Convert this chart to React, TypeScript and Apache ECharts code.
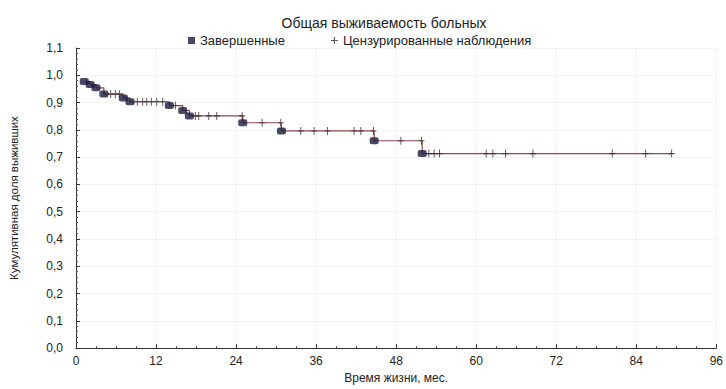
import React, { useEffect, useRef } from "react";
import * as echarts from "echarts";

// Kaplan–Meier: completed observations (events) — time (months) and cumulative survival
const eventTimes = [1.24, 2.13, 2.99, 4.18, 7.1, 8.1, 14.0, 16.0, 17.0, 25.0, 30.8, 44.7, 51.9];
const eventSurvival = [0.977, 0.966, 0.954, 0.931, 0.917, 0.903, 0.889, 0.871, 0.851, 0.826, 0.796, 0.76, 0.713];

// Censored observations — time (months) and survival level at which they sit
const censoredTimes = [
  5.2, 5.9, 6.5, 9.2, 10.0, 10.6, 11.3, 12.1, 13.0, 14.9, 17.9, 18.4, 19.9, 21.1, 24.9,
  27.9, 30.7, 33.7, 35.7, 37.7, 41.7, 42.7, 44.6, 48.7, 51.8, 52.9, 53.7, 54.5, 61.5,
  62.5, 64.4, 68.5, 80.4, 85.4, 89.3,
];
const censoredSurvival = [
  0.931, 0.931, 0.931, 0.903, 0.903, 0.903, 0.903, 0.903, 0.903, 0.889, 0.851, 0.851, 0.851,
  0.851, 0.851, 0.826, 0.826, 0.796, 0.796, 0.796, 0.796, 0.796, 0.796, 0.76, 0.76, 0.713,
  0.713, 0.713, 0.713, 0.713, 0.713, 0.713, 0.713, 0.713, 0.713,
];

const xTicks = [0, 12, 24, 36, 48, 60, 72, 84, 96];

const titleText = "Общая выживаемость больных";
const legendEvents = "Завершенные";
const legendCensored = "Цензурированные наблюдения";
const xName = "Время жизни, мес.";
const yName = "Кумулятивная доля выживших";

const FONT = "'Liberation Sans', Arial, sans-serif";
const PLUS = "path://M4.2,0H5.8V4.3H10V5.7H5.8V10H4.2V5.7H0V4.3H4.2Z";

export default function App() {
  const ref = useRef<HTMLDivElement>(null);

  useEffect(() => {
    if (!ref.current) return;
    const chart = echarts.init(ref.current, undefined, { renderer: "svg" });

    const eventPts = eventTimes.map((t, i) => [t, eventSurvival[i]]);
    const censPts = censoredTimes.map((t, i) => [t, censoredSurvival[i]]);
    const lastCens = censPts[censPts.length - 1];
    const stepPts = [...eventPts, lastCens];

    chart.setOption({
      animation: false,
      backgroundColor: "#ffffff",
      textStyle: { fontFamily: FONT },
      title: {
        text: titleText,
        left: 379,
        textAlign: "center",
        top: 11,
        textStyle: { fontFamily: FONT, fontSize: 14, fontWeight: "normal", color: "#222" },
      },
      legend: {
        left: 183,
        top: 29,
        itemWidth: 7,
        itemHeight: 7,
        itemGap: 46,
        selectedMode: false,
        textStyle: { fontFamily: FONT, fontSize: 13, color: "#222" },
        data: [
          { name: legendEvents, icon: "rect" },
          { name: legendCensored, icon: PLUS },
        ],
      },
      grid: { left: 75, right: 8, top: 48, bottom: 38 },
      xAxis: [
        {
          type: "value",
          min: xTicks[0],
          max: xTicks[xTicks.length - 1],
          interval: 12,
          name: xName,
          nameLocation: "middle",
          nameGap: 23,
          nameTextStyle: { fontFamily: FONT, fontSize: 12, color: "#222" },
          axisLine: { show: true, onZero: false, lineStyle: { color: "#333", width: 1 } },
          axisTick: { show: true, inside: true, length: 4, lineStyle: { color: "#333" } },
          minorTick: { show: true, splitNumber: 4, length: 2, lineStyle: { color: "#555" } },
          axisLabel: { margin: 7, fontSize: 12, color: "#222", fontFamily: FONT },
          splitLine: { show: true, lineStyle: { color: "#f1f1f1", width: 1 } },
        },
        {
          type: "value",
          position: "top",
          min: xTicks[0],
          max: xTicks[xTicks.length - 1],
          interval: 12,
          axisLine: { show: true, lineStyle: { color: "#333", width: 1 } },
          axisTick: { show: false },
          axisLabel: { show: false },
          splitLine: { show: false },
        },
      ],
      yAxis: {
        type: "value",
        min: 0,
        max: 1.1,
        interval: 0.1,
        offset: 5,
        name: yName,
        nameLocation: "middle",
        nameGap: 51,
        nameTextStyle: { fontFamily: FONT, fontSize: 11.5, color: "#222" },
        axisLine: { show: true, lineStyle: { color: "#333", width: 1 } },
        axisTick: { show: true, inside: true, length: 4, lineStyle: { color: "#333" } },
        minorTick: { show: true, splitNumber: 5, length: 2, lineStyle: { color: "#555" } },
        axisLabel: {
          margin: 8,
          fontSize: 12,
          color: "#222",
          fontFamily: FONT,
          formatter: (v: number) => v.toFixed(1).replace(".", ","),
        },
        splitLine: { show: true, lineStyle: { color: "#f4f4f4", width: 1 } },
      },
      series: [
        {
          name: "km",
          type: "line",
          step: "end",
          data: stepPts,
          showSymbol: false,
          symbol: "none",
          lineStyle: { color: "#8c4a4a", width: 1.2 },
          z: 2,
        },
        {
          name: legendCensored,
          type: "scatter",
          data: censPts,
          symbol: PLUS,
          symbolSize: [6, 8],
          symbolKeepAspect: false,
          itemStyle: { color: "#3a2a2e" },
          z: 3,
        },
        {
          name: legendEvents,
          type: "scatter",
          data: eventPts,
          symbol: "roundRect",
          symbolSize: [9, 7],
          itemStyle: { color: "#1c1c3c" },
          z: 4,
        },
      ],
    });

    return () => chart.dispose();
  }, []);

  return (
    <div
      ref={ref}
      style={{ position: "absolute", left: 0, top: 0, width: 726, height: 389 }}
    />
  );
}
